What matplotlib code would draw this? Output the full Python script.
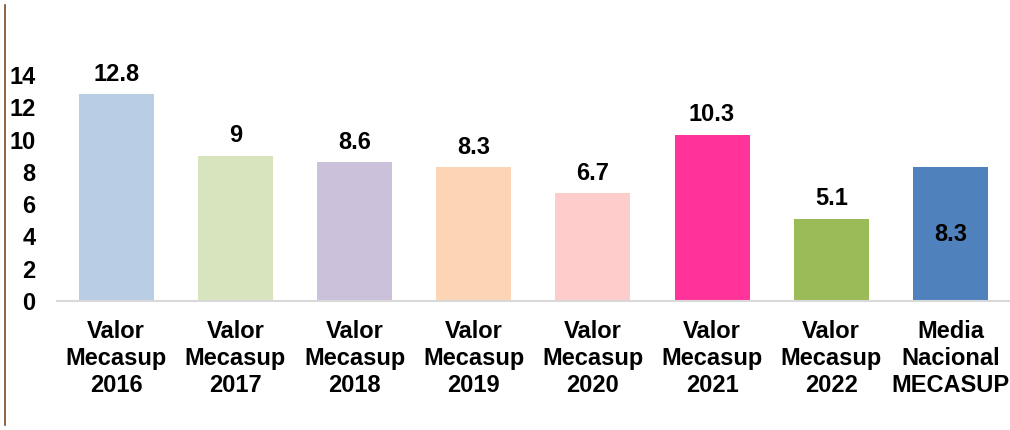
import matplotlib.pyplot as plt
from matplotlib.lines import Line2D

plt.rcParams['font.family'] = ['Liberation Sans', 'DejaVu Sans']

# data
categories = ['Valor\nMecasup\n2016', 'Valor\nMecasup\n2017', 'Valor\nMecasup\n2018',
              'Valor\nMecasup\n2019', 'Valor\nMecasup\n2020', 'Valor\nMecasup\n2021',
              'Valor\nMecasup\n2022', 'Media\nNacional\nMECASUP']
values = [12.8, 9, 8.6, 8.3, 6.7, 10.3, 5.1, 8.3]
value_labels = ['12.8', '9', '8.6', '8.3', '6.7', '10.3', '5.1', '8.3']
colors = ['#B9CDE5', '#D7E4BD', '#CCC1DA', '#FCD5B5', '#FFCCCC', '#FF3399', '#9BBB59', '#4F81BD']
yticks = [0, 2, 4, 6, 8, 10, 12, 14]

fig = plt.figure(figsize=(10.1, 4.3), dpi=100)
ax = fig.add_axes([0.056, 0.30, 0.944, 0.5256])

x = range(len(values))
bars = ax.bar(x, values, width=0.63, color=colors)

# labels above bars, except the national mean which sits inside its bar
for i, (b, v, lab) in enumerate(zip(bars, values, value_labels)):
    if i == len(values) - 1:
        ax.text(b.get_x() + b.get_width() / 2, v / 2, lab, ha='center', va='center',
                fontsize=17, fontweight='bold')
    else:
        ax.annotate(lab, (b.get_x() + b.get_width() / 2, v), xytext=(0, 6),
                    textcoords='offset points', ha='center', va='bottom',
                    fontsize=17, fontweight='bold')

ax.set_xlim(-0.5, len(values) - 0.5)
ax.set_ylim(0, 14)
ax.set_yticks(yticks)
ax.set_yticklabels([str(t) for t in yticks], fontsize=17, fontweight='bold')
ax.set_xticks(list(x))
ax.set_xticklabels(categories, fontsize=17, fontweight='bold', linespacing=1.2)
ax.tick_params(axis='y', length=0, pad=15)
ax.tick_params(axis='x', length=0, pad=14)

for s in ['top', 'right', 'left']:
    ax.spines[s].set_visible(False)
ax.spines['bottom'].set_color('#D9D9D9')
ax.spines['bottom'].set_linewidth(1.5)

# thin brown rule down the left edge
fig.add_artist(Line2D([5 / 1010, 5 / 1010], [5 / 430, 425 / 430],
                      transform=fig.transFigure, color='#7B4A22', linewidth=1.2))

fig.savefig('out.png', dpi=100)
